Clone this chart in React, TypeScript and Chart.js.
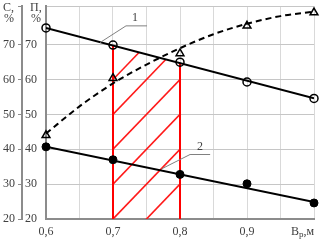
import React, { useEffect, useRef } from 'react';
import { Chart, registerables } from 'chart.js';

Chart.register(...registerables);

// ---- data ----
const xTicks = [0.6, 0.65, 0.7, 0.75, 0.8, 0.85, 0.9, 0.95, 1.0];
const xLabels = ['0,6', '', '0,7', '', '0,8', '', '0,9', '', ''];
const yTicks = [20, 30, 40, 50, 60, 70, 81.1];
const yLabels = ['20', '30', '40', '50', '60', '70', ''];
const xTitleParts = ['В', 'р', ',м'];
const yTitleOuter = ['C,', '%'];
const yTitleInner = ['П,', '%'];

const widths = [0.6, 0.7, 0.8, 0.9, 1.0];
const series1 = [74.8, 69.9, 65.0, 59.3, 54.6];
const trend1X = [0.6, 1.0];
const trend1Y = [74.8, 54.6];

const series3 = [44.0, 60.4, 67.5, 75.4, 79.2];
const curve3X = [0.6, 0.65, 0.7, 0.75, 0.8, 0.85, 0.9, 0.95, 1.0];
const curve3Y = [44.5, 52.3, 58.9, 64.3, 69.0, 73.0, 76.0, 78.2, 79.5];

const series2 = [40.7, 37.0, 32.8, 30.1, 24.6];
const trend2X = [0.6, 1.0];
const trend2Y = [40.7, 24.9];

const hatchX = [0.7, 0.8];
const hatchBase = 20;
const hatchStep = 10;
const hatchRise = 20;

const callout1Pts = [[0.6806, 70.6], [0.7194, 75.4], [0.7507, 75.4]];
const callout1Text = '1';
const callout1Pos = [0.733, 77.7];
const callout2Pts = [[0.7727, 34.4], [0.815, 38.5], [0.845, 38.5]];
const callout2Text = '2';
const callout2Pos = [0.83, 40.6];

const FONT = "'Liberation Serif', 'Times New Roman', serif";
const TEXT = '#404040';
const AXIS = '#8c8c8c';

const xy = (xs: number[], ys: number[]) => xs.map((x, i) => ({ x, y: ys[i] }));

const overlayPlugin = {
  id: 'overlay',
  beforeDatasetsDraw(chart: any) {
    const { ctx, scales } = chart;
    const x = scales.x;
    const y = scales.y;
    const lineAt = (xv: number) =>
      trend1Y[0] + ((trend1Y[1] - trend1Y[0]) * (xv - trend1X[0])) / (trend1X[1] - trend1X[0]);
    const x0 = x.getPixelForValue(hatchX[0]);
    const x1 = x.getPixelForValue(hatchX[1]);
    const yb = y.getPixelForValue(hatchBase);
    const yt0 = y.getPixelForValue(lineAt(hatchX[0]));
    const yt1 = y.getPixelForValue(lineAt(hatchX[1]));
    ctx.save();
    ctx.beginPath();
    ctx.moveTo(x0, yb);
    ctx.lineTo(x0, yt0);
    ctx.lineTo(x1, yt1);
    ctx.lineTo(x1, yb);
    ctx.closePath();
    ctx.clip();
    ctx.strokeStyle = '#ff1a1a';
    ctx.lineWidth = 1.6;
    for (let c = hatchBase - hatchRise; c <= 100; c += hatchStep) {
      ctx.beginPath();
      ctx.moveTo(x0, y.getPixelForValue(c));
      ctx.lineTo(x1, y.getPixelForValue(c + hatchRise));
      ctx.stroke();
    }
    ctx.restore();
    ctx.save();
    ctx.strokeStyle = '#ff0000';
    ctx.lineWidth = 2;
    ctx.beginPath();
    ctx.moveTo(x0, yb);
    ctx.lineTo(x0, yt0);
    ctx.moveTo(x1, yb);
    ctx.lineTo(x1, yt1);
    ctx.stroke();
    ctx.restore();
  },
  afterDraw(chart: any) {
    const { ctx, scales } = chart;
    const x = scales.x;
    const y = scales.y;
    const y2 = scales.y2;
    ctx.save();
    // callouts
    const drawCallout = (pts: number[][], text: string, pos: number[]) => {
      ctx.strokeStyle = '#808080';
      ctx.lineWidth = 1;
      ctx.beginPath();
      pts.forEach((p, i) => {
        const px = x.getPixelForValue(p[0]);
        const py = y.getPixelForValue(p[1]);
        if (i === 0) ctx.moveTo(px, py);
        else ctx.lineTo(px, py);
      });
      ctx.stroke();
      ctx.fillStyle = TEXT;
      ctx.font = `12px ${FONT}`;
      ctx.textAlign = 'center';
      ctx.textBaseline = 'middle';
      ctx.fillText(text, x.getPixelForValue(pos[0]), y.getPixelForValue(pos[1]));
    };
    drawCallout(callout1Pts, callout1Text, callout1Pos);
    drawCallout(callout2Pts, callout2Text, callout2Pos);

    // y-axis titles
    ctx.fillStyle = TEXT;
    ctx.font = `12px ${FONT}`;
    ctx.textAlign = 'left';
    ctx.textBaseline = 'middle';
    ctx.fillText(yTitleOuter[0], y2.left + 3, 8);
    ctx.fillText(yTitleOuter[1], y2.left + 4, 18.5);
    ctx.fillText(yTitleInner[0], y.left + 8, 8);
    ctx.fillText(yTitleInner[1], y.left + 9, 18.5);

    // x-axis title (with subscript)
    const big = `12px ${FONT}`;
    const small = `9px ${FONT}`;
    ctx.font = big;
    const w0 = ctx.measureText(xTitleParts[0]).width;
    const w2 = ctx.measureText(xTitleParts[2]).width;
    ctx.font = small;
    const w1 = ctx.measureText(xTitleParts[1]).width;
    let sx = x.right - (w0 + w1 + w2);
    const ty = x.bottom - 11;
    ctx.textAlign = 'left';
    ctx.font = big;
    ctx.fillText(xTitleParts[0], sx, ty);
    sx += w0;
    ctx.font = small;
    ctx.fillText(xTitleParts[1], sx, ty + 3);
    sx += w1;
    ctx.font = big;
    ctx.fillText(xTitleParts[2], sx, ty);
    ctx.restore();
  },
};

export default function App() {
  const ref = useRef<HTMLCanvasElement>(null);
  useEffect(() => {
    const tickFont = { family: FONT, size: 12 };
    const chart = new Chart(ref.current as HTMLCanvasElement, {
      type: 'scatter',
      data: {
        datasets: [
          {
            data: xy(widths, series1),
            showLine: false,
            pointStyle: 'circle',
            pointRadius: 4,
            borderColor: '#000',
            backgroundColor: 'rgba(0,0,0,0)',
            pointBorderWidth: 1.5,
            clip: false,
          } as any,
          {
            data: xy(widths, series3),
            showLine: false,
            pointStyle: 'triangle',
            pointRadius: 4.5,
            borderColor: '#000',
            backgroundColor: 'rgba(0,0,0,0)',
            pointBorderWidth: 1.5,
            clip: false,
          },
          {
            data: xy(widths, series2),
            showLine: false,
            pointStyle: 'circle',
            pointRadius: 4,
            borderColor: '#000',
            backgroundColor: '#000',
            clip: false,
          },
          {
            data: xy(trend1X, trend1Y),
            showLine: true,
            pointRadius: 0,
            borderColor: '#000',
            borderWidth: 2,
          },
          {
            data: xy(curve3X, curve3Y),
            showLine: true,
            pointRadius: 0,
            borderColor: '#000',
            borderWidth: 2,
            borderDash: [6, 4],
            cubicInterpolationMode: 'monotone',
          },
          {
            data: xy(trend2X, trend2Y),
            showLine: true,
            pointRadius: 0,
            borderColor: '#000',
            borderWidth: 2,
          },
        ] as any,
      },
      options: {
        responsive: false,
        animation: false,
        devicePixelRatio: 1,
        events: [],
        layout: { padding: { top: 4, right: 8, left: 0, bottom: 0 } },
        plugins: { legend: { display: false }, tooltip: { enabled: false } },
        scales: {
          x: {
            type: 'linear',
            min: 0.6,
            max: 1.0,
            afterBuildTicks: (s: any) => {
              s.ticks = xTicks.map((v) => ({ value: v }));
            },
            ticks: {
              callback: (_v: any, i: number) => xLabels[i],
              font: tickFont,
              color: TEXT,
              padding: 6,
              maxRotation: 0,
              autoSkip: false,
            },
            grid: { color: '#d9d9d9', lineWidth: 1, drawTicks: false },
            border: { color: AXIS, width: 2 },
            afterFit: (s: any) => {
              s.height = 24;
              s.paddingLeft = 0;
              s.paddingRight = 0;
            },
          },
          y: {
            type: 'linear',
            position: 'left',
            weight: 0,
            min: 20,
            max: 81.1,
            afterBuildTicks: (s: any) => {
              s.ticks = yTicks.map((v) => ({ value: v }));
            },
            ticks: {
              callback: (_v: any, i: number) => yLabels[i],
              font: tickFont,
              color: TEXT,
              padding: 9,
              autoSkip: false,
            },
            grid: { color: '#c6c6c6', lineWidth: 1, drawTicks: false },
            border: { color: AXIS, width: 2 },
            afterFit: (s: any) => {
              s.width = 24;
              s.paddingTop = 0;
              s.paddingBottom = 0;
            },
          },
          y2: {
            type: 'linear',
            position: 'left',
            weight: 1,
            display: true,
            min: 20,
            max: 81.1,
            afterBuildTicks: (s: any) => {
              s.ticks = yTicks.map((v) => ({ value: v }));
            },
            ticks: {
              callback: (_v: any, i: number) => yLabels[i],
              font: tickFont,
              color: TEXT,
              padding: 3,
              autoSkip: false,
            },
            grid: {
              display: true,
              drawOnChartArea: false,
              drawTicks: true,
              tickLength: 4,
              color: AXIS,
              lineWidth: 1,
            },
            border: { color: AXIS, width: 2 },
            afterFit: (s: any) => {
              s.width = 22;
              s.paddingTop = 0;
              s.paddingBottom = 0;
            },
          },
        },
      } as any,
      plugins: [overlayPlugin],
    });
    return () => chart.destroy();
  }, []);
  return (
    <div style={{ position: 'fixed', left: 0, top: 0, width: 322, height: 243, background: '#fff' }}>
      <canvas ref={ref} width={322} height={243} style={{ display: 'block', width: 322, height: 243 }} />
    </div>
  );
}
